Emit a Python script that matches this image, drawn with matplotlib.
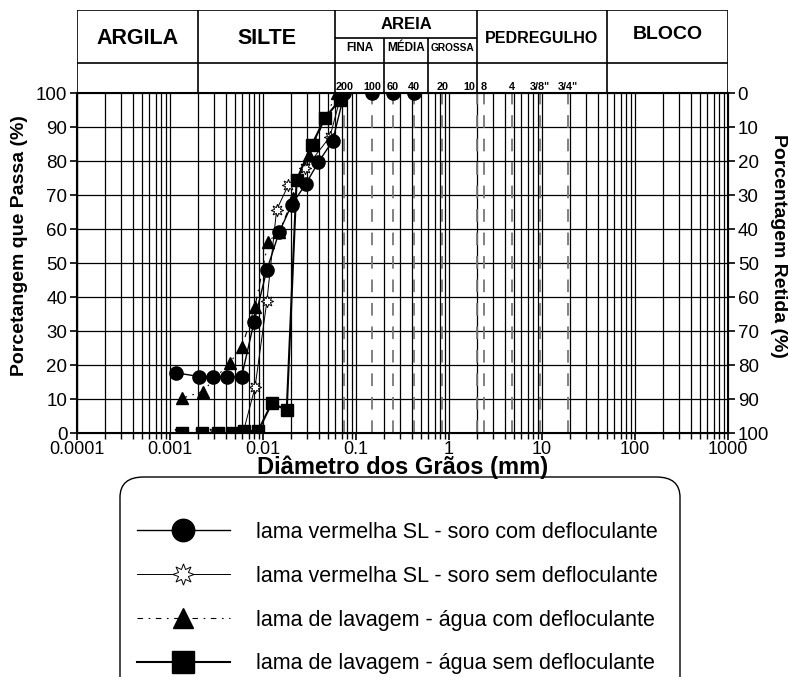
import numpy as np
import matplotlib.pyplot as plt
from matplotlib.patches import FancyBboxPatch

plt.rcParams['font.family'] = ['Liberation Sans', 'DejaVu Sans']

# --- data ---
# lama vermelha SL - soro com defloculante
d_circ = [0.00116, 0.00207, 0.0029, 0.0041, 0.0059, 0.0080, 0.0110, 0.0149, 0.0203, 0.0288, 0.0393, 0.0561, 0.075, 0.15, 0.25, 0.42]
p_circ = [17.7, 16.6, 16.6, 16.6, 16.6, 32.6, 48.0, 59.0, 67.1, 73.2, 79.6, 85.9, 100, 100, 100, 100]
# lama vermelha SL - soro sem defloculante
d_star = [0.00126, 0.0021, 0.0030, 0.0045, 0.0061, 0.0082, 0.0110, 0.0140, 0.0187, 0.0285, 0.0524, 0.070]
p_star = [0, 0, 0, 0, 0, 13.4, 38.7, 65.6, 72.9, 77.8, 87.1, 100]
# lama de lavagem - agua com defloculante
d_tri = [0.00134, 0.00224, 0.0044, 0.0059, 0.0082, 0.0114, 0.0149, 0.0211, 0.031, 0.062]
p_tri = [10.2, 12.2, 20.7, 25.2, 37.2, 56.3, 59.2, 69.0, 81.8, 100]
# lama de lavagem - agua sem defloculante
d_sq = [0.00136, 0.0022, 0.0033, 0.0046, 0.0062, 0.0089, 0.0124, 0.018, 0.023, 0.0334, 0.0464, 0.067]
p_sq = [0, 0, 0, 0, 0.5, 0.7, 8.7, 6.8, 74.4, 84.7, 92.6, 98.0]

labels = ['lama vermelha SL - soro com defloculante',
          'lama vermelha SL - soro sem defloculante',
          'lama de lavagem - água com defloculante',
          'lama de lavagem - água sem defloculante']

# soil classes (mm)
class_bounds = [1e-4, 0.002, 0.06, 2.0, 50, 1000]
class_names = ['ARGILA', 'SILTE', 'AREIA', 'PEDREGULHO', 'BLOCO']
sand_bounds = [0.06, 0.2, 0.6, 2.0]
sand_names = ['FINA', 'MÉDIA', 'GROSSA']

# sieves
sieve_mm = [0.075, 0.15, 0.25, 0.42, 0.85, 2.0, 2.38, 4.76, 9.5, 19.0]
sieve_names = ['200', '100', '60', '40', '20', '10', '8', '4', '3/8"', '3/4"']

W, H = 788, 677
fig = plt.figure(figsize=(W / 100, H / 100), dpi=100)
ax = fig.add_axes([77 / W, 1 - 433 / H, 651 / W, 340 / H])

ax.set_xscale('log')
ax.set_xlim(1e-4, 1e3)
ax.set_ylim(0, 100)

# grid
for dec in range(-4, 3):
    for m in range(1, 10):
        ax.axvline(m * 10.0 ** dec, color='black', lw=0.9, zorder=1)
for yv in range(10, 100, 10):
    ax.axhline(yv, color='black', lw=0.9, zorder=1)
for s in sieve_mm:
    ax.axvline(s, color='#777777', lw=1.3, ls=(0, (7, 6)), zorder=1.5)

ax.plot(d_circ, p_circ, '-', color='black', lw=1.0, marker='o', ms=9.5,
        mfc='black', mec='black', label=labels[0], zorder=4)
ax.plot(d_star, p_star, '-', color='black', lw=0.7, marker=(8, 1, 0), ms=9,
        mfc='white', mec='black', mew=0.7, label=labels[1], zorder=3)
ax.plot(d_tri, p_tri, color='black', lw=0.8, ls=(0, (5, 5, 1.5, 5)), marker='^', ms=8.5,
        mfc='black', mec='black', label=labels[2], zorder=3)
ax.plot(d_sq, p_sq, '-', color='black', lw=1.5, marker='s', ms=9,
        mfc='black', mec='black', label=labels[3], zorder=3)

ax.set_yticks(range(0, 101, 10))
ax.set_xticks([1e-4, 1e-3, 1e-2, 1e-1, 1, 10, 100, 1000])
ax.set_xticklabels(['0.0001', '0.001', '0.01', '0.1', '1', '10', '100', '1000'])
ax.tick_params(axis='both', labelsize=13.5, direction='out', length=5, width=1.2, pad=2)
ax.tick_params(axis='x', which='minor', length=4, width=1.0)
ax.tick_params(axis='x', labelsize=13, pad=1)
for sp in ax.spines.values():
    sp.set_linewidth(1.5)

ax.set_xlabel('Diâmetro dos Grãos (mm)', fontsize=17, fontweight='bold', va='center')
ax.xaxis.set_label_coords(0.5, -(467 - 433) / 340)
ax.set_ylabel('Porcetangem que Passa (%)', fontsize=14, fontweight='bold', va='center')
ax.yaxis.set_label_coords(-0.0876, 0.55)

ax2 = ax.twinx()
ax2.set_ylim(100, 0)
ax2.set_yticks(range(0, 101, 10))
ax2.tick_params(axis='y', labelsize=13.5, direction='out', length=5, width=1.2, pad=2)
ax2.set_ylabel('Porcentagem Retida (%)', fontsize=14, fontweight='bold',
               rotation=270, va='center')
ax2.yaxis.set_label_coords(1.077, 0.55)

# header table
hax = fig.add_axes([77 / W, 1 - 93 / H, 651 / W, 83 / H])
hax.set_xscale('log')
hax.set_xlim(1e-4, 1e3)
hax.set_ylim(0, 1)
hax.axis('off')
row_y = 0.361
sub_y = 0.663
hax.hlines([1.0, row_y], 1e-4, 1e3, color='black', lw=1.2)
hax.vlines(class_bounds, 0, 1, color='black', lw=1.2)
hax.vlines(sand_bounds[1:-1], 0, sub_y, color='black', lw=1.2)
hax.hlines(sub_y, sand_bounds[0], sand_bounds[-1], color='black', lw=1.2)

name_y = [0.66, 0.66, 0.83, 0.66, 0.70]
name_fs = [15.5, 15.5, 12, 11.5, 14]
for i, nm in enumerate(class_names):
    xc = np.sqrt(class_bounds[i] * class_bounds[i + 1])
    hax.text(xc, name_y[i], nm, ha='center', va='center', fontsize=name_fs[i], fontweight='bold')
sand_fs = [8.5, 8.5, 7.3]
for i, nm in enumerate(sand_names):
    xc = np.sqrt(sand_bounds[i] * sand_bounds[i + 1])
    hax.text(xc, 0.54, nm, ha='center', va='center', fontsize=sand_fs[i], fontweight='bold')

for s, nm in zip(sieve_mm, sieve_names):
    ha = 'right' if nm == '10' else 'center'
    xs = s * 0.96 if nm == '10' else s
    hax.text(xs, 0.01, nm, ha=ha, va='bottom', fontsize=7.8, fontweight='bold')

# legend box (rounded, runs off the bottom edge), drawn under the axes texts
box = FancyBboxPatch((120 / W, 1 - 700 / H), 560 / W, 223 / H,
                     boxstyle='round,pad=0,rounding_size=0.03',
                     transform=fig.transFigure, fc='none', ec='black', lw=1.0, zorder=-1)
fig.patches.append(box)

leg = fig.legend(loc='upper left', bbox_to_anchor=(137 / W, 1 - 522 / H),
                 fontsize=15.5, frameon=False,
                 handlelength=4.3, handletextpad=1.25, borderpad=0,
                 labelspacing=1.06, markerscale=1.7, borderaxespad=0)

fig.savefig('out.png', dpi=100)
